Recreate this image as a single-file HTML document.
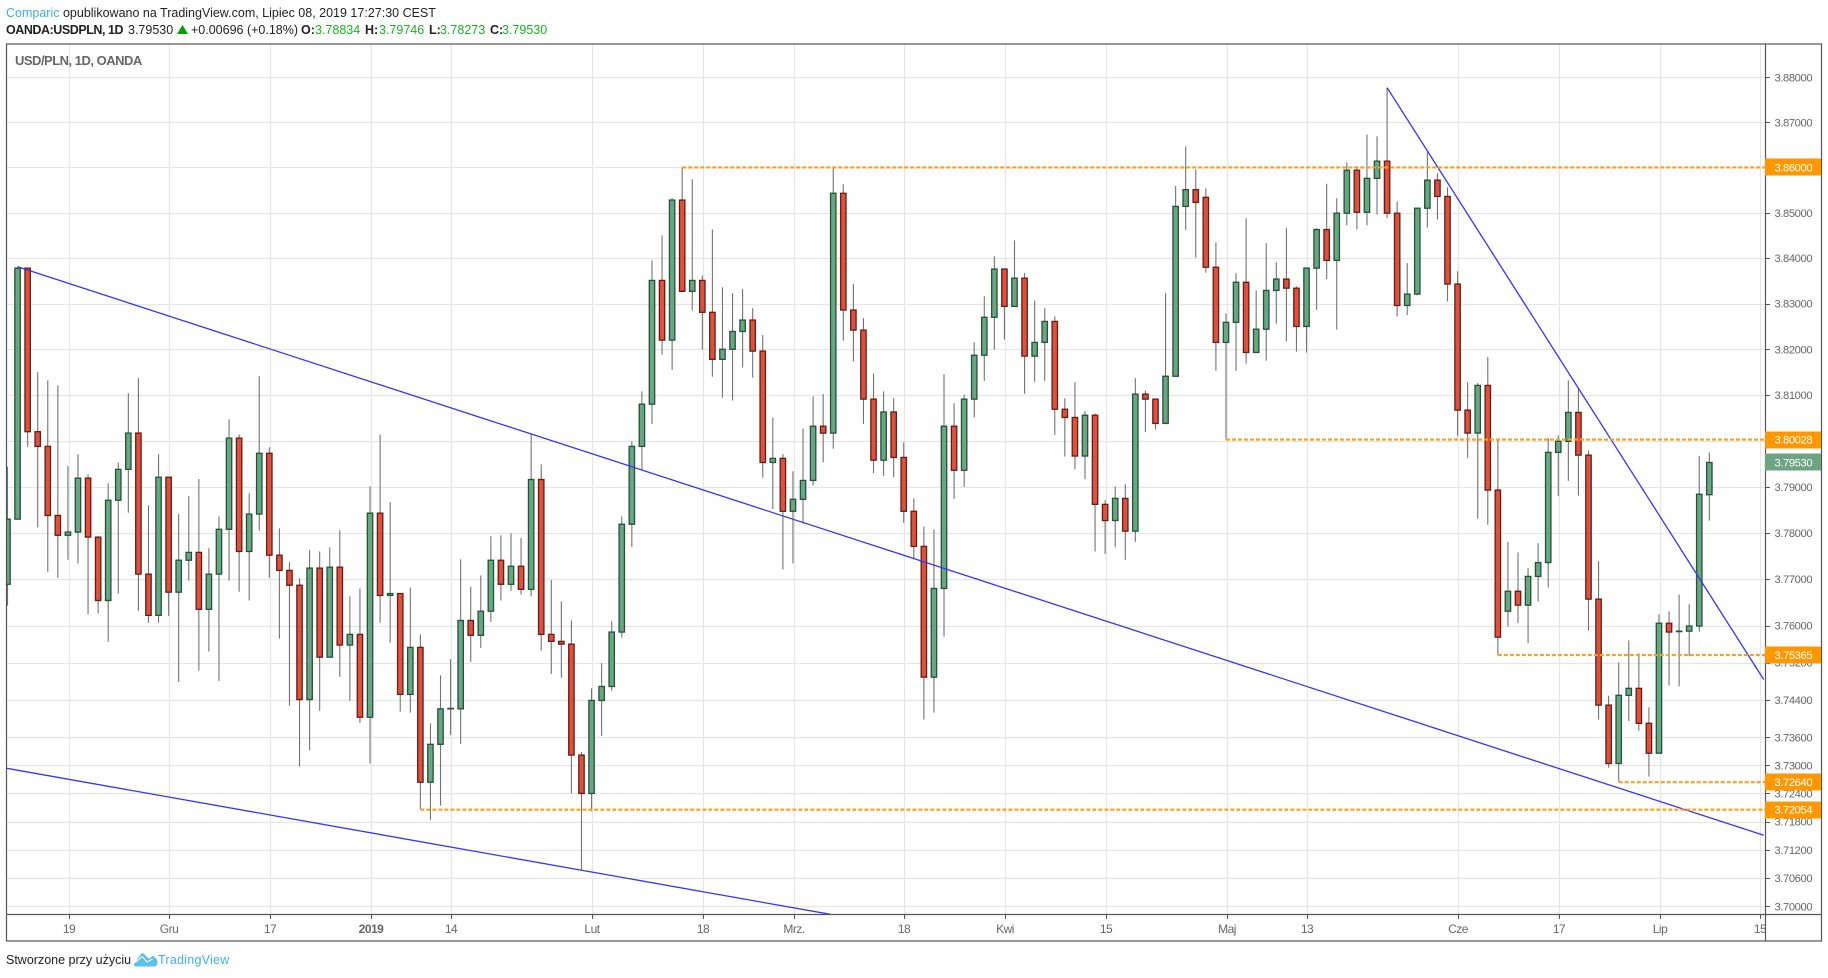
<!DOCTYPE html>
<html lang="pl">
<head>
<meta charset="utf-8">
<title>USD/PLN, 1D, OANDA</title>
<style>
html,body{margin:0;padding:0;background:#fff;}
#page{position:relative;width:1828px;height:978px;overflow:hidden;background:#fff;font-family:"Liberation Sans",sans-serif;color:#222;}
#page span.t{position:absolute;white-space:nowrap;font-size:12.5px;line-height:16px;}
b{font-weight:bold;}
svg{position:absolute;left:0;top:0;}
</style>
</head>
<body>
<div id="page">
  <span class="t" style="left:6px;top:5px"><span style="color:#3bb3e4">Comparic</span> opublikowano na TradingView.com, Lipiec 08, 2019 17:27:30 CEST</span>
  <span class="t" style="left:6px;top:22px;font-weight:bold;letter-spacing:-0.45px">OANDA:USDPLN, 1D</span>
  <span class="t" style="left:128px;top:22px">3.79530</span>
  <svg width="12" height="10" style="left:177px;top:25px"><polygon points="5.5,0 11,9 0,9" fill="#00a000"/></svg>
  <span class="t" style="left:191px;top:22px">+0.00696 (+0.18%)</span>
  <span class="t" style="left:301px;top:22px;font-weight:bold">O:</span>
  <span class="t" style="left:315px;top:22px;color:#19b31f">3.78834</span>
  <span class="t" style="left:365px;top:22px;font-weight:bold">H:</span>
  <span class="t" style="left:379px;top:22px;color:#19b31f">3.79746</span>
  <span class="t" style="left:429px;top:22px;font-weight:bold">L:</span>
  <span class="t" style="left:440px;top:22px;color:#19b31f">3.78273</span>
  <span class="t" style="left:490px;top:22px;font-weight:bold">C:</span>
  <span class="t" style="left:502px;top:22px;color:#19b31f">3.79530</span>

  <svg id="chart" width="1828" height="978" viewBox="0 0 1828 978">
    <defs>
      <clipPath id="pane"><rect x="6" y="44" width="1759" height="870"/></clipPath>
      <clipPath id="timeclip"><rect x="6" y="914" width="1759" height="27"/></clipPath>
    </defs>
    <g id="grid"></g>
    <g id="series" clip-path="url(#pane)"></g>
    <g id="drawings" clip-path="url(#pane)"></g>
    <g id="frame">
      <rect x="6.5" y="44" width="1815" height="897" fill="none" stroke="#555" stroke-width="1.2"/>
      <line x1="1765.5" y1="44" x2="1765.5" y2="941" stroke="#555" stroke-width="1.2"/>
      <line x1="6" y1="914.5" x2="1821" y2="914.5" stroke="#555" stroke-width="1.2"/>
    </g>
    <g id="yaxis"></g>
    <g id="xaxis" clip-path="url(#timeclip)"></g>
    <g id="marks"></g>
    <text x="15" y="65" font-family="Liberation Sans, sans-serif" font-size="13" font-weight="bold" letter-spacing="-0.5" fill="#666">USD/PLN, 1D, OANDA</text>
  </svg>

  <span class="t" style="left:6px;top:952px">Stworzone przy użyciu</span>
  <svg width="26" height="18" style="left:133px;top:952px"><path d="M1 12 L8 2 Q9.5 0.5 11 2 L15 6 Q16 7 17 6 L19 4.5 Q20.5 3.5 22 5.5 Q25 8 24.5 11 Q24 14.5 21 14.5 L4 14.5 Q0 14.5 1 12 Z" fill="#5cc0ea"/><path d="M2.5 10.5 L9 4.5 L14 10 L19.5 7" fill="none" stroke="#fff" stroke-width="1"/></svg>
  <span class="t" style="left:158px;top:952px;color:#3bb3e4;letter-spacing:0.25px">TradingView</span>
</div>

<script>
const opens=[3.7689,3.7830,3.8378,3.8020,3.7988,3.7838,3.7795,3.7802,3.7919,3.7791,
3.7654,3.7871,3.7938,3.8017,3.7711,3.7622,3.7921,3.7672,3.7741,3.7758,
3.7635,3.7711,3.7808,3.8006,3.7760,3.7841,3.7973,3.7752,3.7719,3.7687,
3.7441,3.7724,3.7532,3.7726,3.7558,3.7581,3.7403,3.7843,3.7665,3.7669,
3.7452,3.7553,3.7264,3.7345,3.7421,3.7421,3.7611,3.7579,3.7631,3.7741,
3.7689,3.7728,3.7678,3.7916,3.7581,3.7566,3.7560,3.7322,3.7240,3.7439,
3.7469,3.7586,3.7819,3.7988,3.8080,3.8351,3.8220,3.8528,3.8327,3.8351,
3.8281,3.8178,3.8200,3.8239,3.8264,3.8196,3.7953,3.7962,3.7847,3.7873,
3.7914,3.8032,3.8017,3.8543,3.8286,3.8242,3.8091,3.7958,3.8063,3.7964,
3.7847,3.7771,3.7489,3.7680,3.8032,3.7936,3.8091,3.8187,3.8270,3.8376,
3.8294,3.8356,3.8185,3.8215,3.8261,3.8069,3.8051,3.7967,3.8056,3.7862,
3.7827,3.7875,3.7804,3.8102,3.8091,3.8038,3.8141,3.8514,3.8551,3.8534,
3.8380,3.8215,3.8259,3.8347,3.8193,3.8244,3.8329,3.8354,3.8334,3.8250,
3.8378,3.8463,3.8395,3.8499,3.8594,3.8501,3.8576,3.8614,3.8499,3.8296,
3.8321,3.8510,3.8572,3.8536,3.8343,3.8067,3.8017,3.8121,3.7893,3.7631,
3.7674,3.7644,3.7706,3.7736,3.7975,3.7999,3.8062,3.7969,3.7657,3.7429,
3.7304,3.7450,3.7465,3.7390,3.7326,3.7605,3.7587,3.7588,3.7599,3.7883];
const highs=[3.7944,3.8381,3.8378,3.8150,3.8132,3.8121,3.7945,3.7971,3.7927,3.7793,
3.7908,3.7953,3.8104,3.8137,3.7860,3.7971,3.7921,3.7841,3.7880,3.7917,
3.7767,3.7836,3.8047,3.8014,3.7886,3.8141,3.7986,3.7810,3.7737,3.7702,
3.7763,3.7760,3.7769,3.7806,3.7663,3.7680,3.7901,3.8014,3.7867,3.7670,
3.7682,3.7581,3.7390,3.7493,3.7528,3.7743,3.7684,3.7708,3.7793,3.7795,
3.7799,3.7789,3.8014,3.7949,3.7698,3.7652,3.7611,3.7329,3.7465,3.7519,
3.7609,3.7836,3.7999,3.8108,3.8395,3.8450,3.8532,3.8600,3.8574,3.8362,
3.8463,3.8336,3.8323,3.8332,3.8290,3.8231,3.8051,3.7971,3.7934,3.8027,
3.8097,3.8102,3.8598,3.8563,3.8343,3.8268,3.8147,3.8108,3.8093,3.7997,
3.7875,3.7814,3.7808,3.8145,3.8082,3.8101,3.8215,3.8316,3.8404,3.8376,
3.8439,3.8367,3.8307,3.8290,3.8272,3.8093,3.8128,3.8065,3.8060,3.7871,
3.7901,3.7906,3.8137,3.8110,3.8091,3.8323,3.8559,3.8647,3.8596,3.8554,
3.8435,3.8279,3.8367,3.8488,3.8329,3.8433,3.8391,3.8466,3.8338,3.8380,
3.8466,3.8564,3.8532,3.8611,3.8603,3.8673,3.8669,3.8776,3.8525,3.8389,
3.8510,3.8634,3.8587,3.8556,3.8371,3.8128,3.8126,3.8183,3.8001,3.7781,
3.7758,3.7724,3.7778,3.8006,3.8012,3.8132,3.8115,3.7979,3.7739,3.7449,
3.7521,3.7568,3.7540,3.7424,3.7624,3.7631,3.7667,3.7646,3.7967,3.7975];
const lows=[3.7643,3.7830,3.7987,3.7812,3.7716,3.7703,3.7742,3.7734,3.7624,3.7626,
3.7565,3.7669,3.7844,3.7632,3.7606,3.7606,3.7621,3.7479,3.7697,3.7503,
3.7544,3.7481,3.7697,3.7673,3.7654,3.7805,3.7703,3.7572,3.7428,3.7297,
3.7332,3.7417,3.7532,3.7490,3.7438,3.7391,3.7304,3.7606,3.7563,3.7415,
3.7413,3.7206,3.7184,3.7214,3.7365,3.7346,3.7522,3.7552,3.7608,3.7654,
3.7675,3.7667,3.7663,3.7546,3.7496,3.7488,3.7240,3.7077,3.7202,3.7363,
3.7460,3.7574,3.7770,3.7938,3.8037,3.8188,3.8155,3.8327,3.8285,3.8199,
3.8140,3.8094,3.8088,3.8160,3.8138,3.7920,3.7852,3.7721,3.7734,3.7820,
3.7903,3.7953,3.7983,3.8219,3.8173,3.8037,3.7930,3.7924,3.7921,3.7822,
3.7743,3.7398,3.7413,3.7576,3.7874,3.7900,3.8051,3.8131,3.8199,3.8221,
3.8294,3.8103,3.8129,3.8131,3.8013,3.7966,3.7938,3.7917,3.7760,3.7755,
3.7770,3.7742,3.7781,3.8019,3.8025,3.8038,3.8141,3.8462,3.8401,3.8368,
3.8153,3.8003,3.8153,3.8169,3.8193,3.8175,3.8256,3.8217,3.8195,3.8193,
3.8286,3.8354,3.8243,3.8472,3.8463,3.8472,3.8496,3.8488,3.8272,3.8275,
3.8318,3.8467,3.8485,3.8305,3.8011,3.7963,3.7831,3.7818,3.7537,3.7598,
3.7605,3.7562,3.7652,3.7682,3.7880,3.7913,3.7881,3.7589,3.7398,3.7295,
3.7264,3.7395,3.7374,3.7276,3.7326,3.7471,3.7469,3.7534,3.7587,3.7827];
const closes=[3.7830,3.8378,3.8020,3.7988,3.7838,3.7795,3.7802,3.7919,3.7791,3.7654,
3.7871,3.7938,3.8017,3.7711,3.7622,3.7921,3.7672,3.7741,3.7758,3.7635,
3.7711,3.7808,3.8006,3.7760,3.7841,3.7973,3.7752,3.7719,3.7687,3.7441,
3.7724,3.7532,3.7726,3.7558,3.7581,3.7403,3.7843,3.7665,3.7669,3.7452,
3.7553,3.7264,3.7345,3.7421,3.7422,3.7611,3.7579,3.7631,3.7741,3.7689,
3.7728,3.7678,3.7916,3.7581,3.7566,3.7560,3.7322,3.7240,3.7439,3.7469,
3.7586,3.7819,3.7988,3.8080,3.8351,3.8220,3.8528,3.8327,3.8351,3.8281,
3.8178,3.8200,3.8239,3.8264,3.8196,3.7953,3.7962,3.7847,3.7873,3.7914,
3.8032,3.8017,3.8543,3.8286,3.8242,3.8091,3.7958,3.8063,3.7964,3.7847,
3.7771,3.7489,3.7680,3.8032,3.7936,3.8091,3.8187,3.8270,3.8376,3.8294,
3.8356,3.8185,3.8215,3.8261,3.8069,3.8051,3.7967,3.8056,3.7862,3.7827,
3.7875,3.7804,3.8102,3.8091,3.8038,3.8141,3.8514,3.8551,3.8523,3.8380,
3.8215,3.8259,3.8347,3.8193,3.8244,3.8329,3.8354,3.8334,3.8250,3.8378,
3.8463,3.8395,3.8499,3.8594,3.8501,3.8576,3.8614,3.8499,3.8296,3.8321,
3.8510,3.8572,3.8536,3.8343,3.8067,3.8017,3.8121,3.7893,3.7575,3.7674,
3.7644,3.7706,3.7736,3.7975,3.7999,3.8062,3.7969,3.7657,3.7429,3.7304,
3.7450,3.7465,3.7390,3.7326,3.7605,3.7586,3.7588,3.7599,3.7884,3.7953];
const priceTicks=[3.88,3.87,3.86,3.85,3.84,3.83,3.82,3.81,3.80,3.79,3.78,3.77,3.76,3.752,3.744,3.736,3.73,3.724,3.718,3.712,3.706,3.70];
const timeTickBars=[6,16,26,36,44,58,69,78,89,99,109,121,129,144,154,164,174];
const timeTickLabels=["19","Gru","17","2019","14","Lut","18","Mrz.","18","Kwi","15","Maj","13","Cze","17","Lip","15"];
const levelPrices=[3.86,3.80028,3.75365,3.7264,3.72054];
const levelStartBars=[67,121,148,160,41];
const trendBarsA=[1,174.4];
const trendPricesA=[3.8381,3.7151];
const trendBarsB=[-0.15,81.7];
const trendPricesB=[3.7294,3.6983];
const trendBarsC=[137,174.4];
const trendPricesC=[3.8777,3.7484];
const lastPrice=3.7953;

const NS='http://www.w3.org/2000/svg';
function xScale(i){return 7.5+10.07*i;}
function yScale(p){return 906.3-17452*Math.log(p/3.7);}
function mk(parent,tag,attrs){
  const el=document.createElementNS(NS,tag);
  for(const k in attrs){el.setAttribute(k,attrs[k]);}
  parent.appendChild(el);
  return el;
}
const gGrid=document.getElementById('grid');
const gSeries=document.getElementById('series');
const gDraw=document.getElementById('drawings');
const gY=document.getElementById('yaxis');
const gX=document.getElementById('xaxis');
const gMarks=document.getElementById('marks');
const FONT='Liberation Sans, sans-serif';

priceTicks.forEach(function(p){
  const y=Math.round(yScale(p))+0.5;
  const g=mk(gGrid,'line',{x1:6,x2:1765,y1:y,y2:y,stroke:'#e6e6e6','stroke-width':1.2});
  
  
  const t=mk(gY,'line',{x1:1765,x2:1770,y1:y,y2:y,stroke:'#555','stroke-width':1});
  
  
  const l=mk(gY,'text',{x:1774.5,y:yScale(p)+4,'font-family':FONT,'font-size':11.2,'letter-spacing':-0.4,fill:'#666'});
  l.textContent=p.toFixed(5);
  
  
});
timeTickBars.forEach(function(b,k){
  const x=Math.round(xScale(b)+0.6)+0.5;
  const g=mk(gGrid,'line',{x1:x,x2:x,y1:44,y2:914,stroke:'#e6e6e6','stroke-width':1.2});
  
  
  const t=mk(gX,'line',{x1:x,x2:x,y1:914,y2:919,stroke:'#555','stroke-width':1});
  
  
  const attrs={x:x-0.5,y:933,'text-anchor':'middle','font-family':FONT,'font-size':12,'letter-spacing':-0.5,fill:'#666'};
  if(timeTickLabels[k]==='2019'){attrs['font-weight']='bold';}
  const l=mk(gX,'text',attrs);
  l.textContent=timeTickLabels[k];
  
  
});
opens.forEach(function(o,i){
  const c=closes[i];
  const up=c>=o;
  const cx=xScale(i);
  const w=mk(gSeries,'line',{x1:cx,x2:cx,y1:yScale(highs[i]),y2:yScale(lows[i]),stroke:'#737375','stroke-width':1.1});
  
  
  const top=yScale(Math.max(o,c));
  const bot=yScale(Math.min(o,c));
  const r=mk(gSeries,'rect',{x:cx-2.7,y:top,width:5.4,height:Math.max(bot-top,0.4),fill:up?'#6ba583':'#d75442',stroke:up?'#225437':'#6b1b12','stroke-width':1.3});
  
  
});
function trend(bars,prices){
  const l=mk(gDraw,'line',{x1:xScale(bars[0]),y1:yScale(prices[0]),x2:xScale(bars[1]),y2:yScale(prices[1]),stroke:'#3636f5','stroke-width':1.3});
  
  
}
trend(trendBarsA,trendPricesA);
trend(trendBarsB,trendPricesB);
trend(trendBarsC,trendPricesC);
levelPrices.forEach(function(p,k){
  const y=yScale(p);
  const l=mk(gDraw,'line',{x1:xScale(levelStartBars[k]),x2:1765,y1:y,y2:y,stroke:'#ff9f1a','stroke-width':2.1,'stroke-dasharray':'4 2'});
  
  
  const b=mk(gMarks,'rect',{x:1765,y:Math.round(y)-8.5,width:56,height:17,fill:'#ff9800'});
  
  
  const t=mk(gMarks,'text',{x:1774.5,y:y+4,'font-family':FONT,'font-size':11.2,'letter-spacing':-0.4,fill:'#fff'});
  t.textContent=p.toFixed(5);
  
  
});
const lastY=yScale(lastPrice);
const lastBox=mk(gMarks,'rect',{x:1765,y:Math.round(lastY)-8.5,width:56,height:17,fill:'#6ba583'});


const lastTxt=mk(gMarks,'text',{x:1774.5,y:lastY+4,'font-family':FONT,'font-size':11.2,'letter-spacing':-0.4,fill:'#fff'});
lastTxt.textContent=lastPrice.toFixed(5);


</script>
</body>
</html>
